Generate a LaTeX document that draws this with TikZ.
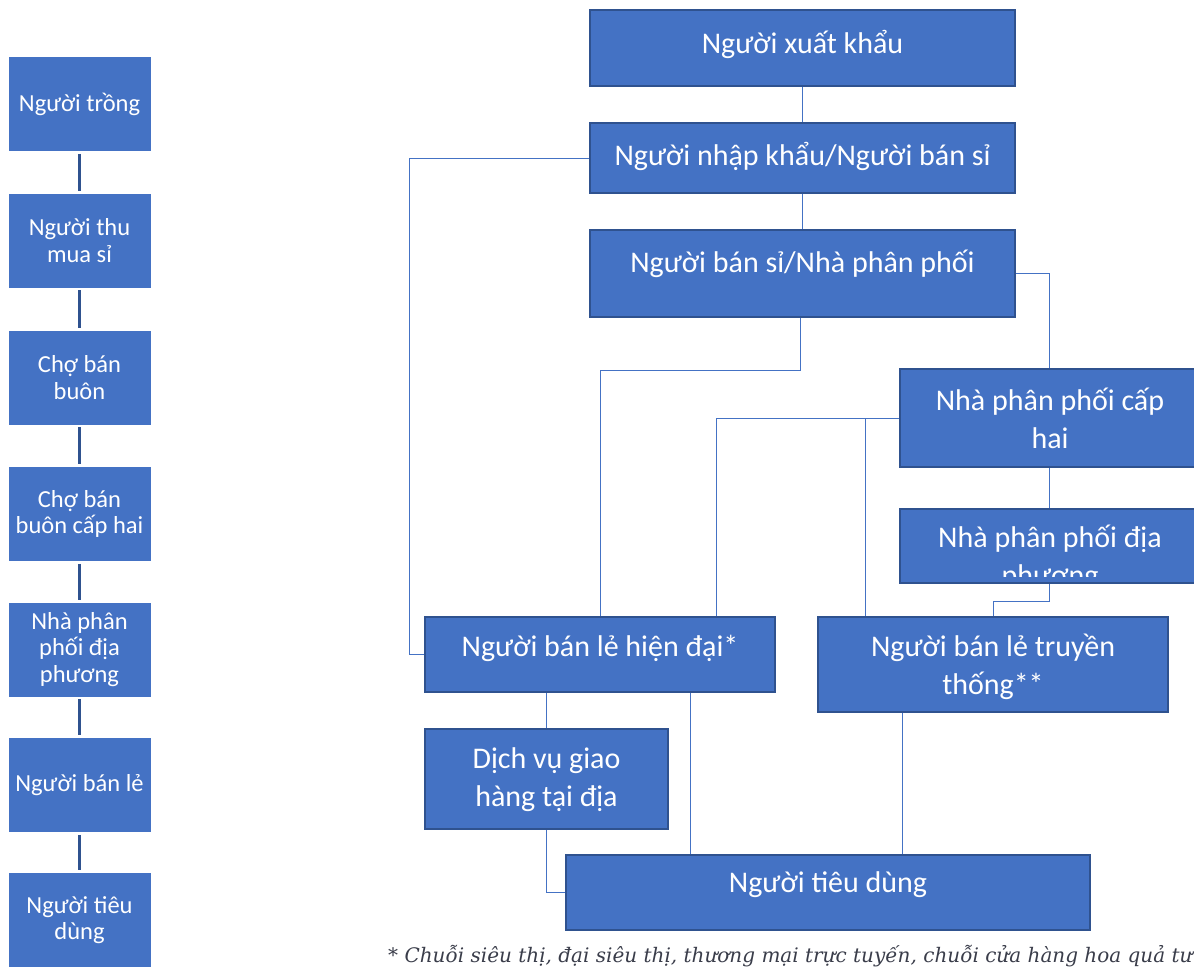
\documentclass[tikz,border=0pt]{standalone}
\usepackage{fontspec}
\setmainfont{Carlito}
\newfontfamily\notefont{DejaVu Serif}
\definecolor{boxblue}{HTML}{4472C4}
\definecolor{edgeblue}{HTML}{2F528F}
\definecolor{notegray}{HTML}{3A3D4A}
\begin{document}
\begin{tikzpicture}[x=1pt,y=-1pt,
  lbox/.style={fill=boxblue, draw=white, line width=0.5pt, text=white, inner sep=0pt, align=center,
    minimum width=143pt, minimum height=95pt, font=\fontsize{24.5}{26.5}\selectfont},
  rbox/.style={fill=boxblue, draw=edgeblue, line width=2pt, inner sep=0pt},
  rtxt/.style={text=white, align=center, inner sep=0pt, font=\fontsize{30}{38}\selectfont},
  lconn/.style={draw=edgeblue, line width=2.5pt, shorten <=2pt, shorten >=2pt},
  rconn/.style={draw=boxblue, line width=1pt}]
\useasboundingbox (0,0) rectangle (1194,967);

% left column
\node[lbox] (L1) at (79.5,104) {Người trồng};
\node[lbox] (L2) at (79.5,240.5) {Người thu\\mua sỉ};
\node[lbox] (L3) at (79.5,377.5) {Chợ bán\\buôn};
\node[lbox] (L4) at (79.5,514) {Chợ bán\\buôn cấp hai};
\node[lbox] (L5) at (79.5,649.5) {Nhà phân\\phối địa\\phương};
\node[lbox] (L6) at (79.5,785) {Người bán lẻ};
\node[lbox] (L7) at (79.5,920) {Người tiêu\\dùng};
\foreach \a/\b in {L1/L2,L2/L3,L3/L4,L4/L5,L5/L6,L6/L7}
  \draw[lconn] (\a.south) -- (\b.north);

% right diagram boxes
\node[rbox, minimum width=425pt, minimum height=76pt] (ex) at (802.5,48) {};
\node[rbox, minimum width=425pt, minimum height=70pt] (im) at (802.5,158) {};
\node[rbox, minimum width=425pt, minimum height=87pt] (ws) at (802.5,273.5) {};
\node[rbox, minimum width=300pt, minimum height=98pt] (d2) at (1050,418) {};
\node[rbox, minimum width=300pt, minimum height=74pt] (dl) at (1050,546) {};
\node[rbox, minimum width=350pt, minimum height=75pt] (rm) at (600,654.5) {};
\node[rbox, minimum width=350pt, minimum height=95pt] (rt) at (993,664.5) {};
\node[rbox, minimum width=243pt, minimum height=100pt] (dv) at (546.5,779) {};
\node[rbox, minimum width=524pt, minimum height=75pt] (cs) at (828,892.5) {};

% connectors
\draw[rconn] (ex.south) -- (im.north);
\draw[rconn] (im.south) -- (ws.north);
\draw[rconn] (im.west) -- ++(-180,0) |- (rm.west);
\draw[rconn] ([xshift=-2.5pt]ws.south) -- ++(0,52.5) -| (rm.north);
\draw[rconn] (ws.east) -| ([xshift=-1pt]d2.north);
\draw[rconn] (d2.west) -| ([xshift=116pt]rm.north);
\draw[rconn] (d2.west) -| ([xshift=-128pt]rt.north);
\draw[rconn] ([xshift=-1pt]d2.south) -- ([xshift=-1pt]dl.north);
\draw[rconn] ([xshift=-1pt]dl.south) -- ++(0,17) -| (rt.north);
\draw[rconn] (dv.north |- rm.south) -- (dv.north);
\draw[rconn] ([xshift=90pt]rm.south) -- ([xshift=90pt]rm.south |- cs.north);
\draw[rconn] (dv.south) |- (cs.west);
\draw[rconn] ([xshift=-91pt]rt.south) -- ([xshift=-91pt]rt.south |- cs.north);

% texts
\node[rtxt] (tex) at (802.5,44) {Người xuất khẩu};
\node[rtxt] (tim) at (802.5,156) {Người nhập khẩu/Người bán sỉ};
\node[rtxt] (tws) at (802.5,264) {Người bán sỉ/Nhà phân phối};
\node[rtxt] (td2) at (1050,418) {Nhà phân phối cấp\\hai};
\begin{scope}
  \clip (901,510) rectangle (1194,576);
  \node[rtxt] (tdl) at (1050,558) {Nhà phân phối địa\\phương};
\end{scope}
\node[rtxt] (trm) at (600,648) {Người bán lẻ hiện đại*};
\node[rtxt] (trt) at (993,667) {Người bán lẻ truyền\\thống**};
\node[rtxt] (tdv) at (546.5,780) {Dịch vụ giao\\hàng tại địa};
\node[rtxt] (tcs) at (828,885) {Người tiêu dùng};

% footnote
\node[anchor=base west, inner sep=0pt, text=notegray, font=\notefont\itshape\fontsize{20}{24}\selectfont] (fn) at (388,962)
  {* Chuỗi siêu thị, đại siêu thị, thương mại trực tuyến, chuỗi cửa hàng hoa quả tư};
\end{tikzpicture}
\end{document}
